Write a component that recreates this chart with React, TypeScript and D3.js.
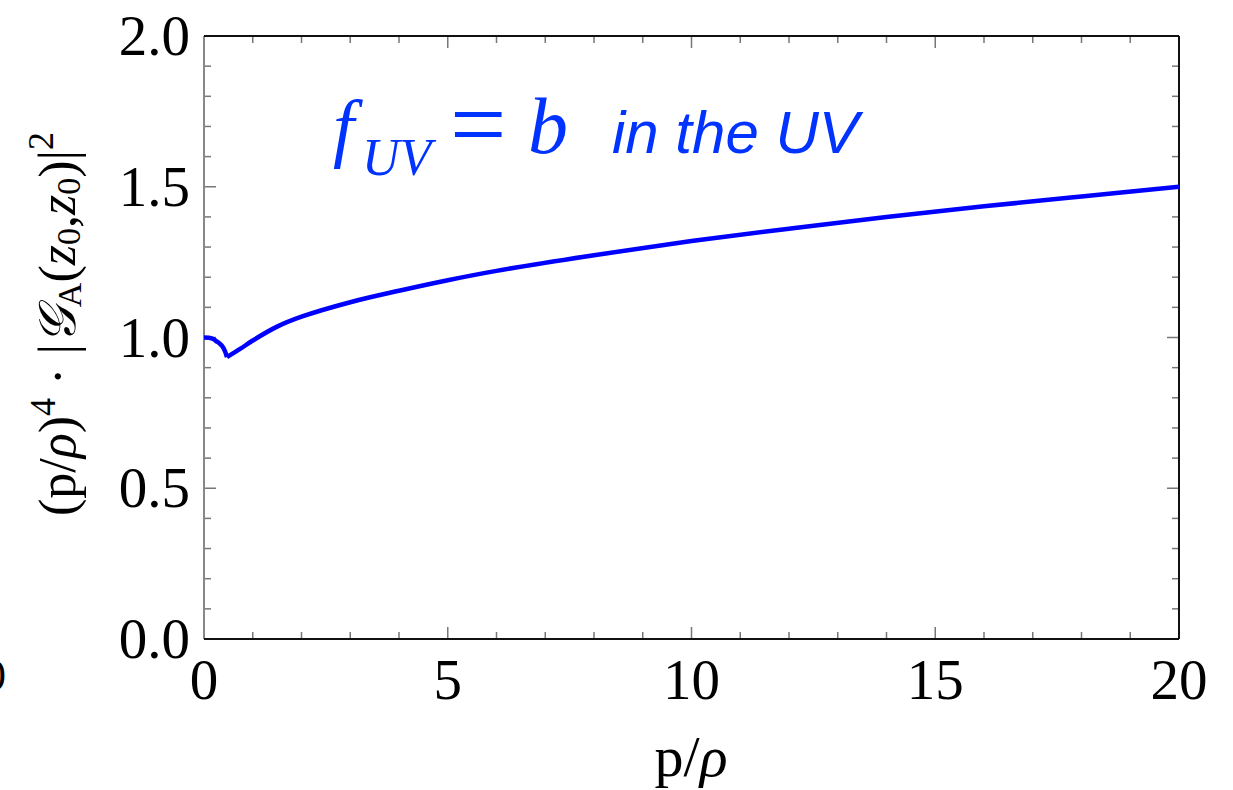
import * as d3 from "d3";
import React, { useEffect, useRef } from "react";

// p/rho values and the normalised propagator
// small branch near the origin (drops from 1.0 to the cusp)
const nearX = [0, 0.1, 0.2, 0.25, 0.32, 0.37, 0.43, 0.47];
const nearY = [1.0, 0.999, 0.994, 0.988, 0.98, 0.972, 0.955, 0.935];
// rising branch after the cusp
const farX = [0.47, 0.75, 1, 1.5, 2, 3, 4, 5, 6, 8, 10, 12, 14, 16, 18, 20];
const farY = [0.935, 0.963, 0.99, 1.036, 1.069, 1.117, 1.155, 1.19, 1.221, 1.273, 1.32, 1.361, 1.4, 1.435, 1.468, 1.5];

const xTicks = [0, 5, 10, 15, 20];
const yTicks = [0, 0.5, 1.0, 1.5, 2.0];

const App = () => {
  const ref = useRef(null);

  useEffect(() => {
    const svg = d3.select(ref.current);
    svg.selectAll("*").remove();

    const left = 204, right = 1179, top = 36, bottom = 639;
    const serif = "'Liberation Serif', 'Times New Roman', serif";

    const x = d3.scaleLinear().domain([0, 20]).range([left, right]);
    const y = d3.scaleLinear().domain([0, 2]).range([bottom, top]);

    const g = svg.append("g");

    // minor / major ticks on all four sides, pointing inwards
    const xMinor = d3.range(0, 20.01, 1);
    const yMinor = d3.range(0, 2.001, 0.1);
    const isMajorX = (v) => Math.abs(v % 5) < 1e-6;
    const isMajorY = (v) => Math.abs(Math.round(v * 10) % 5) < 1e-6;

    xMinor.forEach((v) => {
      const len = isMajorX(v) ? 12 : 7;
      g.append("line").attr("x1", x(v)).attr("x2", x(v)).attr("y1", bottom).attr("y2", bottom - len)
        .attr("stroke", "#777").attr("stroke-width", 1.5);
      g.append("line").attr("x1", x(v)).attr("x2", x(v)).attr("y1", top).attr("y2", top + len)
        .attr("stroke", "#777").attr("stroke-width", 1.5);
    });
    yMinor.forEach((v) => {
      const len = isMajorY(v) ? 12 : 7;
      g.append("line").attr("x1", left).attr("x2", left + len).attr("y1", y(v)).attr("y2", y(v))
        .attr("stroke", "#777").attr("stroke-width", 1.5);
      g.append("line").attr("x1", right).attr("x2", right - len).attr("y1", y(v)).attr("y2", y(v))
        .attr("stroke", "#777").attr("stroke-width", 1.5);
    });

    // frame
    g.append("line").attr("x1", left).attr("x2", left).attr("y1", top).attr("y2", bottom)
      .attr("stroke", "#888").attr("stroke-width", 2);
    g.append("line").attr("x1", left).attr("x2", right).attr("y1", bottom).attr("y2", bottom)
      .attr("stroke", "#111").attr("stroke-width", 2);
    g.append("line").attr("x1", left).attr("x2", right).attr("y1", top).attr("y2", top)
      .attr("stroke", "#111").attr("stroke-width", 2);
    g.append("line").attr("x1", right).attr("x2", right).attr("y1", top).attr("y2", bottom)
      .attr("stroke", "#111").attr("stroke-width", 2);

    // tick labels
    g.selectAll(".xl").data(xTicks).enter().append("text")
      .attr("x", (d) => x(d)).attr("y", 699)
      .attr("text-anchor", "middle").attr("font-family", serif).attr("font-size", 57)
      .attr("fill", "#000").text((d) => d);
    g.selectAll(".yl").data(yTicks).enter().append("text")
      .attr("x", 190).attr("y", (d) => y(d) + 19)
      .attr("text-anchor", "end").attr("font-family", serif).attr("font-size", 57)
      .attr("fill", "#000").text((d) => d.toFixed(1));

    // stray glyph from the neighbouring panel (cut off in the original too)
    g.append("text").attr("x", 6).attr("y", 690).attr("text-anchor", "end")
      .attr("font-family", serif).attr("font-size", 44).attr("fill", "#000").text("0");

    // axis titles
    const xt = g.append("text").attr("x", 691).attr("y", 776).attr("text-anchor", "middle")
      .attr("font-family", serif).attr("font-size", 58).attr("fill", "#000");
    xt.append("tspan").text("p/");
    xt.append("tspan").attr("font-style", "italic").text("ρ");

    const yt = g.append("text").attr("transform", "translate(75,324) rotate(-90)")
      .attr("text-anchor", "middle").attr("font-family", serif).attr("font-size", 52).attr("fill", "#000");
    yt.append("tspan").text("(p/");
    yt.append("tspan").attr("font-style", "italic").text("ρ");
    yt.append("tspan").text(")");
    yt.append("tspan").attr("font-size", 36).attr("dy", -20).text("4");
    yt.append("tspan").attr("dy", 20).text(" · |");
    yt.append("tspan").attr("font-style", "italic").text("𝒢");
    yt.append("tspan").attr("font-size", 34).attr("dy", 6).text("A");
    yt.append("tspan").attr("dy", -6).text("(");
    yt.append("tspan").attr("font-style", "italic").text("z");
    yt.append("tspan").attr("font-size", 34).attr("dy", 5).text("0");
    yt.append("tspan").attr("dy", -5).text(",");
    yt.append("tspan").attr("font-style", "italic").text("z");
    yt.append("tspan").attr("font-size", 34).attr("dy", 5).text("0");
    yt.append("tspan").attr("dy", -5).text(")|");
    yt.append("tspan").attr("font-size", 36).attr("dy", -22).text("2");

    // annotation
    const ann = g.append("text").attr("y", 153).attr("fill", "#0033ff").attr("font-family", serif);
    ann.append("tspan").attr("x", 333).attr("font-style", "italic").attr("font-size", 76).text("f");
    ann.append("tspan").attr("x", 362).attr("font-style", "italic").attr("font-size", 52).attr("dy", 22).text("UV");
    ann.append("tspan").attr("x", 450).attr("font-size", 100).attr("dy", -17).text("=");
    ann.append("tspan").attr("x", 528).attr("font-style", "italic").attr("font-size", 80).attr("dy", -5).text("b");
    g.append("text").attr("x", 612).attr("y", 153).attr("fill", "#0033ff")
      .attr("font-family", "'Liberation Sans', Arial, sans-serif").attr("font-style", "italic")
      .attr("font-size", 60).text("in the UV");

    // curve
    const line = d3.line().x((d) => x(d[0])).y((d) => y(d[1])).curve(d3.curveCatmullRom.alpha(0.5));
    const near = nearX.map((v, i) => [v, nearY[i]]);
    const far = farX.map((v, i) => [v, farY[i]]);
    [near, far].forEach((pts) => {
      g.append("path").attr("d", line(pts)).attr("fill", "none")
        .attr("stroke", "#0000ff").attr("stroke-width", 4.5).attr("stroke-linejoin", "miter");
    });
  }, []);

  return (
    <svg ref={ref} width={1233} height={790}
      style={{ position: "absolute", left: 0, top: 0, background: "#fff" }} />
  );
};

export default App;
